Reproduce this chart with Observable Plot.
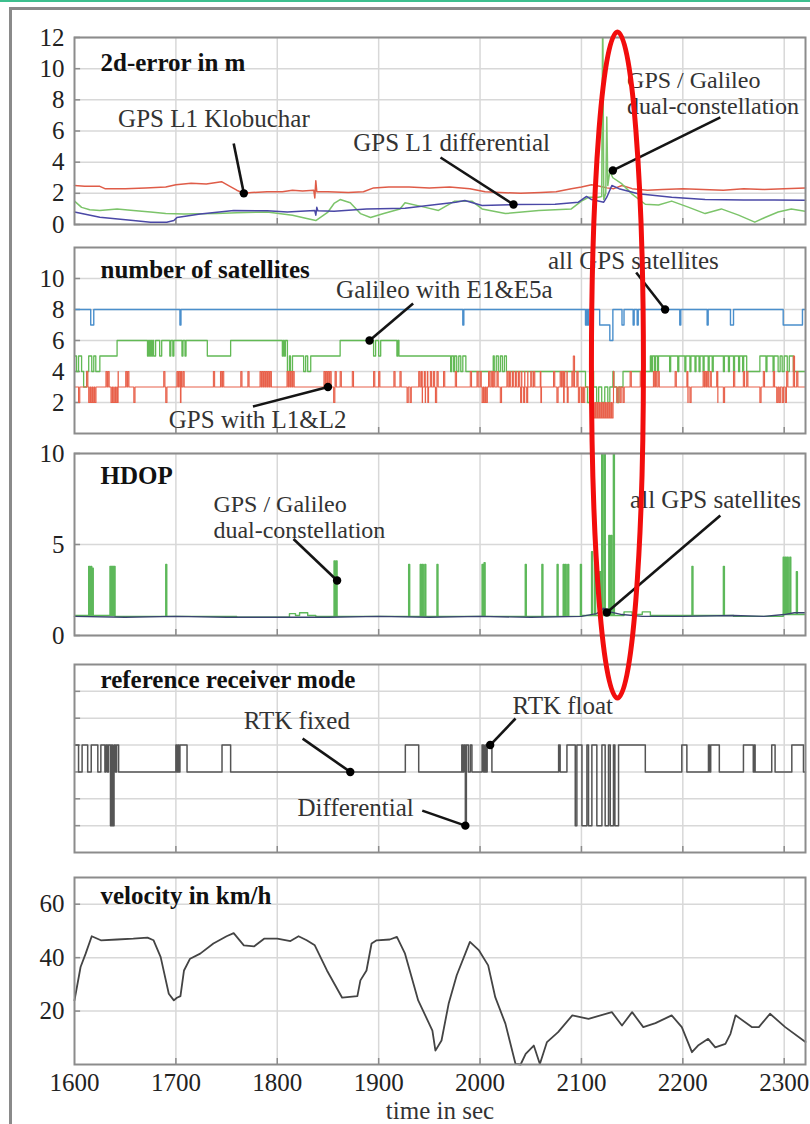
<!DOCTYPE html>
<html>
<head>
<meta charset="utf-8">
<script src="https://cdn.jsdelivr.net/npm/d3@7"></script>
<script src="https://cdn.jsdelivr.net/npm/@observablehq/plot@0.6"></script>
<style>
  html, body { margin: 0; padding: 0; background: #fff; }
  #page { position: relative; width: 810px; height: 1124px; overflow: hidden; background: #fff;
          font-family: "Liberation Serif", "Times New Roman", serif; }
  #topline { position: absolute; left: 0; top: 0; width: 810px; height: 2px; background: #3dbf8e; }
  #box { position: absolute; left: 9px; top: 7px; width: 820px; height: 1130px;
         border-left: 3px solid #8a8a8a; border-top: 3px solid #8a8a8a; }
</style>
</head>
<body>
<div id="page"><div id="topline"></div><div id="box"></div></div>
<script>
// ---------- time axis ----------
const tStart = 1600, tEnd = 2321;
const xTicks = [1600, 1700, 1800, 1900, 2000, 2100, 2200, 2300];

// ---------- 2d-error in m ----------
const errTicks = [0, 2, 4, 6, 8, 10, 12];
const errKlobuchar = [[1600,2.5],[1610,2.45],[1625,2.45],[1630,2.3],[1650,2.3],[1670,2.35],[1690,2.4],[1700,2.55],[1715,2.65],[1730,2.6],[1745,2.75],[1752,2.5],[1760,2.2],[1767,2.0],[1775,2.05],[1790,2.1],[1805,2.1],[1815,2.2],[1825,2.15],[1836,2.2],[1837,1.7],[1838,2.8],[1839,2.1],[1850,2.1],[1870,2.05],[1885,2.1],[1895,2.35],[1910,2.4],[1930,2.4],[1950,2.35],[1970,2.4],[1990,2.3],[2005,2.1],[2020,2.05],[2040,2.0],[2060,2.05],[2075,2.1],[2090,2.3],[2100,2.4],[2110,2.55],[2118,2.45],[2125,2.35],[2132,2.3],[2140,2.5],[2150,2.3],[2165,2.2],[2180,2.25],[2200,2.3],[2220,2.25],[2240,2.2],[2260,2.3],[2280,2.25],[2300,2.3],[2321,2.35]];
const errDifferential = [[1600,0.8],[1625,0.47],[1658,0.26],[1675,0.15],[1691,0.15],[1698,0.26],[1701,0.45],[1724,0.68],[1757,0.9],[1790,0.88],[1810,0.8],[1823,0.85],[1837,0.9],[1838,0.6],[1839,1.1],[1840,0.88],[1856,0.85],[1888,1.0],[1926,1.05],[1959,1.3],[1976,1.43],[1985,1.54],[2002,1.22],[2033,1.28],[2074,1.3],[2097,1.43],[2105,1.8],[2110,1.6],[2122,1.43],[2125,1.75],[2130,2.5],[2137,2.3],[2156,1.97],[2189,1.75],[2222,1.6],[2260,1.58],[2290,1.58],[2321,1.55]];
const errDual = [[1600,1.5],[1607,1.1],[1615,0.95],[1625,0.9],[1642,1.0],[1658,0.9],[1675,0.8],[1690,0.7],[1708,0.68],[1740,0.7],[1760,0.75],[1790,0.8],[1815,0.6],[1828,0.4],[1838,0.25],[1850,0.8],[1856,1.35],[1862,1.6],[1872,1.4],[1882,0.7],[1892,0.45],[1905,0.7],[1921,1.0],[1926,1.4],[1946,1.1],[1959,0.9],[1975,1.5],[1992,1.5],[2002,1.0],[2025,0.7],[2058,0.9],[2090,1.0],[2100,1.5],[2107,1.75],[2117,1.75],[2120,1.8],[2121,14],[2122,1.6],[2124,2.0],[2125,6.9],[2126,2.5],[2128,3.4],[2131,3.0],[2140,2.6],[2150,1.95],[2163,1.3],[2176,1.25],[2189,1.5],[2206,1.1],[2222,0.7],[2238,1.0],[2255,0.6],[2271,0.15],[2281,0.45],[2294,0.8],[2307,1.0],[2321,0.85]];

// ---------- number of satellites ----------
const satTicks = [2, 4, 6, 8, 10];
const satAllGps = [[1600,8],[1616,7],[1619,8],[1704,7],[1705,8],[1983,7],[1984,8],[2104,7],[2105,8],[2106,7],[2107,8],[2118,7],[2128,6],[2131,8],[2140,7],[2142,8],[2151,7],[2152,8],[2155,7],[2156,8],[2197,7],[2198,8],[2224,7],[2225,8],[2247,7],[2250,8],[2299,7],[2318,8],[2321,8]];
const satGalileo = [[1600,5],[1602,4],[1604,5],[1607,4],[1609,3],[1612,4],[1614,5],[1617,4],[1619,5],[1621,4],[1625,5],[1642,6],[1672,5],[1673,6],[1674,5],[1675,6],[1676,5],[1677,6],[1678,5],[1680,6],[1684,5],[1686,6],[1694,5],[1695,6],[1697,5],[1698,6],[1706,5],[1707,6],[1709,5],[1710,6],[1731,5],[1754,6],[1805,5],[1806,6],[1807,5],[1808,6],[1810,4],[1812,5],[1813,4],[1815,5],[1826,4],[1828,5],[1830,4],[1833,5],[1862,6],[1895,5],[1897,6],[1900,5],[1902,6],[1918,5],[1919,6],[1920,5],[1971,4],[1972,5],[1974,4],[1975,5],[1977,4],[1979,5],[1981,4],[1983,5],[1986,4],[2013,5],[2014,4],[2016,5],[2018,4],[2020,5],[2022,4],[2024,5],[2026,4],[2104,3],[2106,2],[2108,3],[2111,4],[2112,3],[2115,2],[2117,3],[2120,2],[2123,3],[2126,2],[2128,3],[2131,4],[2132,3],[2135,2],[2137,3],[2141,4],[2168,5],[2169,4],[2170,5],[2172,4],[2173,5],[2175,4],[2176,5],[2187,4],[2188,5],[2195,4],[2196,5],[2202,4],[2203,5],[2207,4],[2208,5],[2212,4],[2213,5],[2216,4],[2217,5],[2220,4],[2221,5],[2225,4],[2226,5],[2229,4],[2230,5],[2240,4],[2241,5],[2245,4],[2246,5],[2250,4],[2251,5],[2255,4],[2256,5],[2259,4],[2260,5],[2263,4],[2276,5],[2282,4],[2283,5],[2289,4],[2290,5],[2294,4],[2296,5],[2298,4],[2300,5],[2303,4],[2305,5],[2309,4],[2321,4]];
// GPS with L1&L2: usual count and short changes of it
const satGpsBase = [[1600,3],[2108,2],[2132,3]];
const satGpsTo4 = [1612,1631,1633,1643,1650.5,1652.5,1688,1701,1703,1705,1707,1737,1744,1746,1764,1771,1783,1785,1787,1789,1791,1793,1809.6,1811.5,1813.5,1815.5,1846,1848,1850,1852,1857,1862,1874,1895,1900,1915,1921,1939.5,1942,1945,1948,1951,1954,1957.5,1964,1975.6,1990.4,1997,2000,2008.4,2011,2013.4,2016.7,2026.5,2029,2032,2035,2038,2041,2044,2047,2050,2052.8,2059.4,2072.5,2079,2081,2083,2085.7,2090.6,2095.5,2131.6,2148,2158,2171,2173,2175.6,2192.4,2204,2220,2222,2224,2226.9,2233.4,2250,2259.7,2263,2279.4,2289.3,2302.4,2312.3];
const satGpsTo5 = [2092, 2309];
const satGpsTo2 = [1604,1614,1616,1618,1620,1636,1637.5,1639,1640.5,1642,1658.5,1690,1704.5,1855.6,1928,1931,1943,1946,1948.5,1956,2002,2004,2006,2020,2040,2043,2046,2060,2075.8,2082.4,2086,2097,2100,2102,2135,2138,2141,2205,2207,2234.5,2240,2276,2292.6,2295,2298,2301];
const satGpsTo1 = [2112,2114,2116,2118,2120,2122,2124,2126,2128,2130];

// ---------- HDOP ----------
const hdopTicks = [0, 5, 10];
const hdopAllGps = [[1600,1.05],[1650,1.0],[1700,1.05],[1750,1.0],[1800,1.0],[1850,1.0],[1900,1.05],[1950,1.0],[2000,1.05],[2050,1.0],[2100,1.05],[2115,1.2],[2122,1.5],[2128,1.3],[2140,1.15],[2160,1.05],[2200,1.05],[2250,1.1],[2280,1.05],[2300,1.15],[2310,1.25],[2321,1.25]];
const hdopDualBase = [[1600,1.1],[1640,1.05],[1700,1.05],[1760,1.0],[1812,1.2],[1818,1.1],[1822,1.25],[1830,1.1],[1838,1.05],[1900,1.05],[2000,1.05],[2100,1.1],[2142,1.3],[2150,1.15],[2160,1.3],[2168,1.1],[2250,1.05],[2300,1.15]];
const hdopDualSpikes = [[1614,3.8],[1616,3.8],[1617.5,3.7],[1635,3.8],[1636.5,3.8],[1638,3.8],[1639.5,3.8],[1690,3.9],[1856,4.1],[1858,4.1],[1929.6,3.9],[1941,3.9],[1943,3.9],[1945.5,3.9],[1957.5,3.9],[2002,3.9],[2004,4.0],[2044.6,3.9],[2061,3.9],[2076,3.9],[2082,3.9],[2084,3.9],[2086.5,3.9],[2099,3.9],[2110,4.6],[2113,4.8],[2118,3.5],[2120,14],[2122.5,14],[2127,5.5],[2129,5.5],[2131.5,14],[2209,3.8],[2240,3.8],[2299,4.3],[2301,4.3],[2303,4.3],[2305.5,4.3],[2312,3.5]];

// ---------- reference receiver mode (1 differential, 3 RTK fixed, 4 RTK float) ----------
const modeTicks = [1, 2, 3, 4, 5, 6];
const receiverMode = [[1600,4],[1604,3],[1607.5,4],[1613,3],[1616.5,4],[1623,3],[1626,4],[1630,3],[1631,4],[1632.5,3],[1633.5,4],[1635.5,1],[1636.5,4],[1637.5,1],[1639,4],[1640.4,3],[1641.5,4],[1643.5,3],[1700,4],[1701,3],[1702,4],[1703,3],[1704,4],[1711,3],[1745.5,4],[1754,3],[1926.3,4],[1939.5,3],[1982,4],[1983,3],[1984,4],[1985.5,1],[1986.5,4],[1988.5,3],[1990.4,4],[1992,3],[2002,4],[2003.5,3],[2005,4],[2006,3],[2007,4],[2011.7,3],[2077.5,4],[2079,3],[2085.7,4],[2093.9,1],[2095.5,4],[2100.5,1],[2105.4,4],[2107,1],[2110.3,4],[2115.2,1],[2120.2,4],[2123.4,1],[2126.7,4],[2128.4,1],[2131.6,4],[2133,1],[2136.6,4],[2163,3],[2199,4],[2204,3],[2225.3,4],[2226.5,3],[2227.5,4],[2236,3],[2259.8,4],[2269.5,3],[2270.5,4],[2271.3,3],[2287.7,4],[2291,3],[2307.5,4],[2319,3],[2321,3]];

// ---------- velocity in km/h ----------
const velTicks = [20, 40, 60];
const velocity = [[1600,24],[1606,36.5],[1611,41.5],[1617,48],[1626,46.5],[1642,46.8],[1658,47.1],[1672,47.5],[1678,46.5],[1685,40.2],[1693,26.5],[1698,24],[1701,25],[1704.5,25.6],[1708,35.2],[1714,39.6],[1724,41.5],[1737,45.3],[1750,48],[1757,49.2],[1767,44.6],[1777,44.2],[1787,47.1],[1800,47.1],[1813,46.2],[1821,48],[1829,46.5],[1837,44.6],[1849,35.2],[1864,25],[1879,25.6],[1882,31.5],[1888,35.2],[1893,45.3],[1898,46.5],[1911,46.8],[1918,47.8],[1926,41.5],[1939,24],[1953,12.7],[1956,5.2],[1962,9],[1969,22.7],[1977,33.4],[1990,45.9],[1999,42.7],[2008,37.1],[2015,25.2],[2025,15.3],[2035,0.2],[2040,0],[2045,4],[2053,7.1],[2059,0.2],[2066,8.4],[2077,12.1],[2091,18.4],[2107,17.1],[2130,19.6],[2140,14.6],[2150,19.6],[2161,14],[2173,15.5],[2189,18.4],[2199,14],[2209,4.6],[2215,7.1],[2225,9.6],[2232,6.4],[2242,7.7],[2247,11.5],[2252,18.4],[2268,14],[2275,14],[2286,19],[2301,14],[2321,8.4]];

// ---------- annotations (data coordinates) ----------
const errNotes = [
  {x: 2145, y: 8.47, text: "GPS / Galileo\ndual-constellation"},
  {x: 1643, y: 6.74, text: "GPS L1 Klobuchar"},
  {x: 1875, y: 5.2, text: "GPS L1 differential"}
];
const errPointers = [
  {x1: 1757, y1: 5.2, x2: 1767, y2: 2.0},
  {x1: 1961, y1: 4.3, x2: 2033, y2: 1.28},
  {x1: 2237, y1: 6.87, x2: 2131, y2: 3.47}
];
const satNotes = [
  {x: 1858, y: 9.29, text: "Galileo with E1&E5a"},
  {x: 2067, y: 11.16, text: "all GPS satellites"},
  {x: 1693, y: 0.84, text: "GPS with L1&L2"}
];
const satPointers = [
  {x1: 1934, y1: 8.39, x2: 1891, y2: 6.0},
  {x1: 2154, y1: 10.39, x2: 2182.5, y2: 8.0},
  {x1: 1776, y1: 1.74, x2: 1850, y2: 3.0}
];
const hdopNotes = [
  {x: 1737, y: 6.54, text: "GPS / Galileo\ndual-constellation"},
  {x: 2148, y: 7.47, text: "all GPS satellites"}
];
const hdopPointers = [
  {x1: 1816, y1: 5.3, x2: 1859, y2: 3.02},
  {x1: 2237, y1: 6.59, x2: 2125, y2: 1.26}
];
const modeNotes = [
  {x: 1767, y: 4.91, text: "RTK fixed"},
  {x: 1820, y: 1.64, text: "Differential"},
  {x: 2032, y: 5.47, text: "RTK float"}
];
const modePointers = [
  {x1: 1825, y1: 4.24, x2: 1872, y2: 3},
  {x1: 1943, y1: 1.56, x2: 1985.5, y2: 1},
  {x1: 2035, y1: 4.99, x2: 2010, y2: 4}
];

// ---------- helpers ----------
const pts = arr => arr.map(([t, v]) => ({t, v}));

// Step series: a stepwise base level plus short excursions of a given width.
function pulseSeries(baseSteps, pulses, width) {
  const baseAt = t => { let b = baseSteps[0][1]; for (const [s, v] of baseSteps) if (t >= s) b = v; return b; };
  const out = baseSteps.map(([t, v]) => ({t, v}));
  for (const [t, v] of pulses) {
    out.push({t, v});
    out.push({t: t + width, v: baseAt(t + width)});
  }
  out.push({t: tEnd, v: baseAt(tEnd)});
  return out.sort((a, b) => a.t - b.t);
}

const FONT = '"Liberation Serif", "Times New Roman", serif';
const GRID = "#d8d8d8", FRAME = "#8c8c8c";
const page = document.getElementById("page");

function annotations(notes, pointers) {
  return [
    Plot.link(pointers, {x1: "x1", y1: "y1", x2: "x2", y2: "y2", stroke: "#151515", strokeWidth: 2.6}),
    Plot.dot(pointers, {x: "x2", y: "y2", r: 4.2, fill: "#000", stroke: "none"}),
    Plot.text(notes.filter(d => !d.text.includes("\n")), {x: "x", y: "y", text: "text", textAnchor: "start",
      lineAnchor: "middle", fill: "#333", fontSize: 25}),
    // two-line labels, set slightly smaller so the lines keep clear of each other
    Plot.text(notes.filter(d => d.text.includes("\n")), {x: "x", y: "y", text: "text", textAnchor: "start",
      lineAnchor: "middle", lineHeight: 1.1, fill: "#333", fontSize: 24})
  ];
}

function title(label, dy) {
  return Plot.text([label], {frameAnchor: "top-left", dx: 26, dy, lineAnchor: "middle", textAnchor: "start",
    fontWeight: "bold", fill: "#111", fontSize: 25});
}

function panel({top, inner, y, ticks, labels = true, marks, bottom = false}) {
  const mt = 22, mb = bottom ? 62 : 10;
  const [y0, y1] = y;
  const tickLen = (y1 - y0) * 6 / inner;
  const chart = Plot.plot({
    width: 810, height: inner + mt + mb,
    marginLeft: 74, marginRight: 5, marginTop: mt, marginBottom: mb,
    style: {fontFamily: FONT, fontSize: "25px", color: "#222", background: "transparent", overflow: "visible"},
    x: {domain: [tStart, tEnd], axis: null},
    y: {domain: y, axis: null},
    marks: [
      Plot.gridX(xTicks.slice(1), {stroke: GRID, strokeOpacity: 1, strokeWidth: 1.5}),
      Plot.gridY(ticks, {stroke: GRID, strokeOpacity: 1, strokeWidth: 1.5}),
      Plot.ruleX(xTicks.slice(1), {y1: y0, y2: y0 + tickLen, stroke: FRAME, strokeWidth: 1.5}),
      Plot.ruleY(ticks, {x1: tStart, x2: tStart + 6, stroke: FRAME, strokeWidth: 1.5}),
      ...marks,
      Plot.frame({stroke: FRAME, strokeWidth: 2}),
      labels ? Plot.axisY(ticks, {tickSize: 0, tickPadding: 10, label: null, fontSize: 25, fill: "#222"}) : null,
      bottom ? Plot.axisX(xTicks, {tickSize: 0, tickPadding: 9, label: null, fontSize: 25, fill: "#222", tickFormat: d => String(d)}) : null,
      bottom ? Plot.text(["time in sec"], {frameAnchor: "bottom", lineAnchor: "middle", dy: 46, fontSize: 25, fill: "#333"}) : null
    ]
  });
  chart.style.position = "absolute";
  chart.style.left = "0px";
  chart.style.top = (top - mt) + "px";
  page.append(chart);
  return chart;
}

// ---------- panels ----------
const pErr = panel({
  top: 37, inner: 187, y: [0, 12], ticks: errTicks,
  marks: [
    Plot.line(pts(errKlobuchar), {x: "t", y: "v", stroke: "#df5c48", strokeWidth: 1.5}),
    Plot.line(pts(errDual), {x: "t", y: "v", stroke: "#7cc46a", strokeWidth: 1.5, clip: true}),
    Plot.line(pts(errDifferential), {x: "t", y: "v", stroke: "#4a48a6", strokeWidth: 1.5}),
    title("2d-error in m", 25),
    ...annotations(errNotes, errPointers)
  ]
});

const gpsPulses = [
  ...satGpsTo4.map(t => [t, 4]), ...satGpsTo5.map(t => [t, 5]),
  ...satGpsTo2.map(t => [t, 2]), ...satGpsTo1.map(t => [t, 1])
];
panel({
  top: 247, inner: 186, y: [0, 12], ticks: satTicks,
  marks: [
    Plot.line(pts(satAllGps), {x: "t", y: "v", stroke: "#4a8fcc", strokeWidth: 1.4, curve: "step-after"}),
    Plot.line(pts(satGalileo), {x: "t", y: "v", stroke: "#62b955", strokeWidth: 1.3, curve: "step-after"}),
    Plot.line(pulseSeries(satGpsBase, gpsPulses, 1.2), {x: "t", y: "v", stroke: "#e8604a", strokeWidth: 1.1, curve: "step-after"}),
    title("number of satellites", 22),
    ...annotations(satNotes, satPointers)
  ]
});

panel({
  top: 453, inner: 182, y: [0, 10], ticks: hdopTicks,
  marks: [
    Plot.line(pulseSeries(hdopDualBase, hdopDualSpikes, 1.0), {x: "t", y: "v", stroke: "#5db85a", strokeWidth: 1.4, curve: "step-after", clip: true}),
    Plot.line(pts(hdopAllGps), {x: "t", y: "v", stroke: "#3a4470", strokeWidth: 1.4}),
    title("HDOP", 22),
    ...annotations(hdopNotes, hdopPointers)
  ]
});

panel({
  top: 664, inner: 188, y: [0, 7], ticks: modeTicks, labels: false,
  marks: [
    Plot.line(pts(receiverMode), {x: "t", y: "v", stroke: "#555", strokeWidth: 1.5, curve: "step-after"}),
    title("reference receiver mode", 15),
    ...annotations(modeNotes, modePointers)
  ]
});

panel({
  top: 877, inner: 187, y: [0, 70], ticks: velTicks, bottom: true,
  marks: [
    Plot.line(pts(velocity), {x: "t", y: "v", stroke: "#444", strokeWidth: 1.8}),
    title("velocity in km/h", 18)
  ]
});

// ---------- highlight of the dual-constellation outage ----------
const xScale = pErr.scale("x");
const overlay = d3.select(page).append("svg")
  .attr("width", 810).attr("height", 1124)
  .style("position", "absolute").style("left", "0px").style("top", "0px")
  .style("pointer-events", "none");
overlay.append("ellipse")
  .attr("cx", xScale.apply(2136))
  .attr("cy", 365)
  .attr("rx", 26)
  .attr("ry", 333)
  .attr("fill", "none")
  .attr("stroke", "#f20d0d")
  .attr("stroke-width", 5);
</script>
</body>
</html>
